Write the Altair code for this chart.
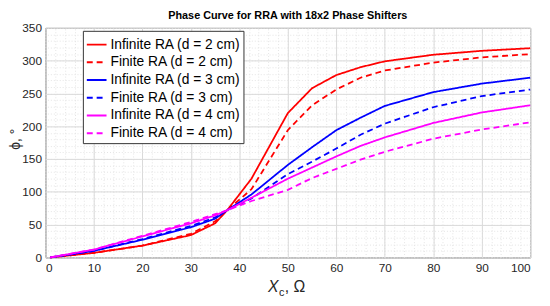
import altair as alt
import pandas as pd

# ---- data ----
x_vals = [1, 10, 20, 30, 35, 37.5, 42.5, 50, 55, 60, 65, 70, 80, 90, 100]
red_inf = [0, 7, 18, 34, 52, 72, 120, 220, 258, 278, 290, 299, 309, 315, 319]
red_fin = [0, 7, 18, 36, 55, 72, 104, 194, 232, 256, 274, 285, 297, 305, 310]
blue_inf = [0, 10, 27, 46, 59, 72, 96, 141, 168, 194, 213, 231, 252, 265, 274]
blue_fin = [0, 10, 28, 48, 61, 72, 90, 127, 146, 166, 187, 204, 229, 246, 256]
mag_inf = [0, 12, 32, 52, 64, 72, 91, 120, 137, 154, 170, 183, 205, 221, 232]
mag_fin = [0, 12, 33, 54, 66, 72, 86, 103, 121, 135, 149, 161, 181, 195, 206]

series_names = [
    "Infinite RA (d = 2 cm)",
    "Finite RA (d = 2 cm)",
    "Infinite RA (d = 3 cm)",
    "Finite RA (d = 3 cm)",
    "Infinite RA (d = 4 cm)",
    "Finite RA (d = 4 cm)",
]
series_values = [red_inf, red_fin, blue_inf, blue_fin, mag_inf, mag_fin]
colors = ["#ff0000", "#ff0000", "#0000ff", "#0000ff", "#ff00ff", "#ff00ff"]
dashes = [[1, 0], [6, 4], [1, 0], [6, 4], [1, 0], [6, 4]]

x_major = list(range(0, 101, 10))
y_major = list(range(0, 351, 50))
x_minor = list(range(0, 101, 2))
y_minor = list(range(0, 351, 10))

rows = []
for name, vals in zip(series_names, series_values):
    for xv, yv in zip(x_vals, vals):
        rows.append({"x": xv, "phi": yv, "series": name})
df = pd.DataFrame(rows)

FONT = "Liberation Sans"
xscale = alt.Scale(domain=[0, 100], nice=False, zero=False)
yscale = alt.Scale(domain=[0, 350], nice=False, zero=False)

minor = alt.Chart(df).mark_line(opacity=0).encode(
    x=alt.X("x:Q", scale=xscale,
            axis=alt.Axis(orient="top", values=x_minor, grid=True, gridColor="#e4e4e4",
                          gridDash=[1, 2], labels=False, ticks=False, domain=False, title=None)),
    y=alt.Y("phi:Q", scale=yscale,
            axis=alt.Axis(orient="right", values=y_minor, grid=True, gridColor="#e4e4e4",
                          gridDash=[1, 2], labels=False, ticks=False, domain=False, title=None)),
    detail="series:N",
)

legend_kw = dict(
    orient="none", legendX=38, legendY=3, title=None,
    symbolType="stroke", symbolSize=400, symbolStrokeWidth=2,
    labelFont=FONT, labelFontSize=14, labelColor="#000000", labelOffset=3,
    rowPadding=-1, padding=3, strokeColor="#333333", fillColor="#ffffff",
    cornerRadius=0, labelLimit=300,
)

lines = alt.Chart(df).mark_line(strokeWidth=1.8).encode(
    x=alt.X("x:Q", scale=xscale,
            axis=alt.Axis(orient="bottom", values=x_major, grid=True, gridColor="#d9d9d9",
                          labels=True, labelFont=FONT, labelFontSize=12, labelColor="#262626",
                          labelPadding=5, ticks=False, domain=False, title=None)),
    y=alt.Y("phi:Q", scale=yscale,
            axis=alt.Axis(orient="left", values=y_major, grid=True, gridColor="#d9d9d9",
                          labels=True, labelFont=FONT, labelFontSize=12, labelColor="#262626",
                          labelPadding=4, ticks=False, domain=False, title=None)),
    color=alt.Color("series:N", sort=series_names,
                    scale=alt.Scale(domain=series_names, range=colors),
                    legend=alt.Legend(**legend_kw)),
    strokeDash=alt.StrokeDash("series:N", sort=series_names,
                              scale=alt.Scale(domain=series_names, range=dashes),
                              legend=alt.Legend(**legend_kw)),
)

lab = pd.DataFrame({"t": ["X", "c", ", Ω", "ϕ, °"]})
x_title_X = alt.Chart(lab).transform_filter("datum.t == 'X'").mark_text(
    font=FONT, fontSize=16, fontStyle="italic", align="left", baseline="alphabetic", color="#262626"
).encode(text="t:N", x=alt.value(226), y=alt.value(268))
x_title_c = alt.Chart(lab).transform_filter("datum.t == 'c'").mark_text(
    font=FONT, fontSize=11, align="left", baseline="alphabetic", color="#262626"
).encode(text="t:N", x=alt.value(237), y=alt.value(272))
x_title_rest = alt.Chart(lab).transform_filter("datum.t == ', Ω'").mark_text(
    font=FONT, fontSize=16, align="left", baseline="alphabetic", color="#262626"
).encode(text="t:N", x=alt.value(243), y=alt.value(268))
y_title = alt.Chart(lab).transform_filter("datum.t == 'ϕ, °'").mark_text(
    font=FONT, fontSize=14, angle=270, align="center", baseline="middle", color="#262626"
).encode(text="t:N", x=alt.value(-30), y=alt.value(113))

chart = alt.layer(minor, lines, x_title_X, x_title_c, x_title_rest, y_title).resolve_axis(
    x="independent", y="independent"
).properties(
    width=492, height=233,
    title=alt.Title("Phase Curve for RRA with 18x2 Phase Shifters", font=FONT, fontSize=11,
                    fontWeight="bold", color="#000000", offset=1, anchor="middle"),
    autosize=alt.AutoSizeParams(type="none"),
    padding={"left": 38, "top": 18, "right": 12, "bottom": 38},
    background="#ffffff",
).configure_view(stroke="#4d4d4d", strokeWidth=1)

chart.save("out.html", embed_options={"renderer": "svg", "actions": False})
